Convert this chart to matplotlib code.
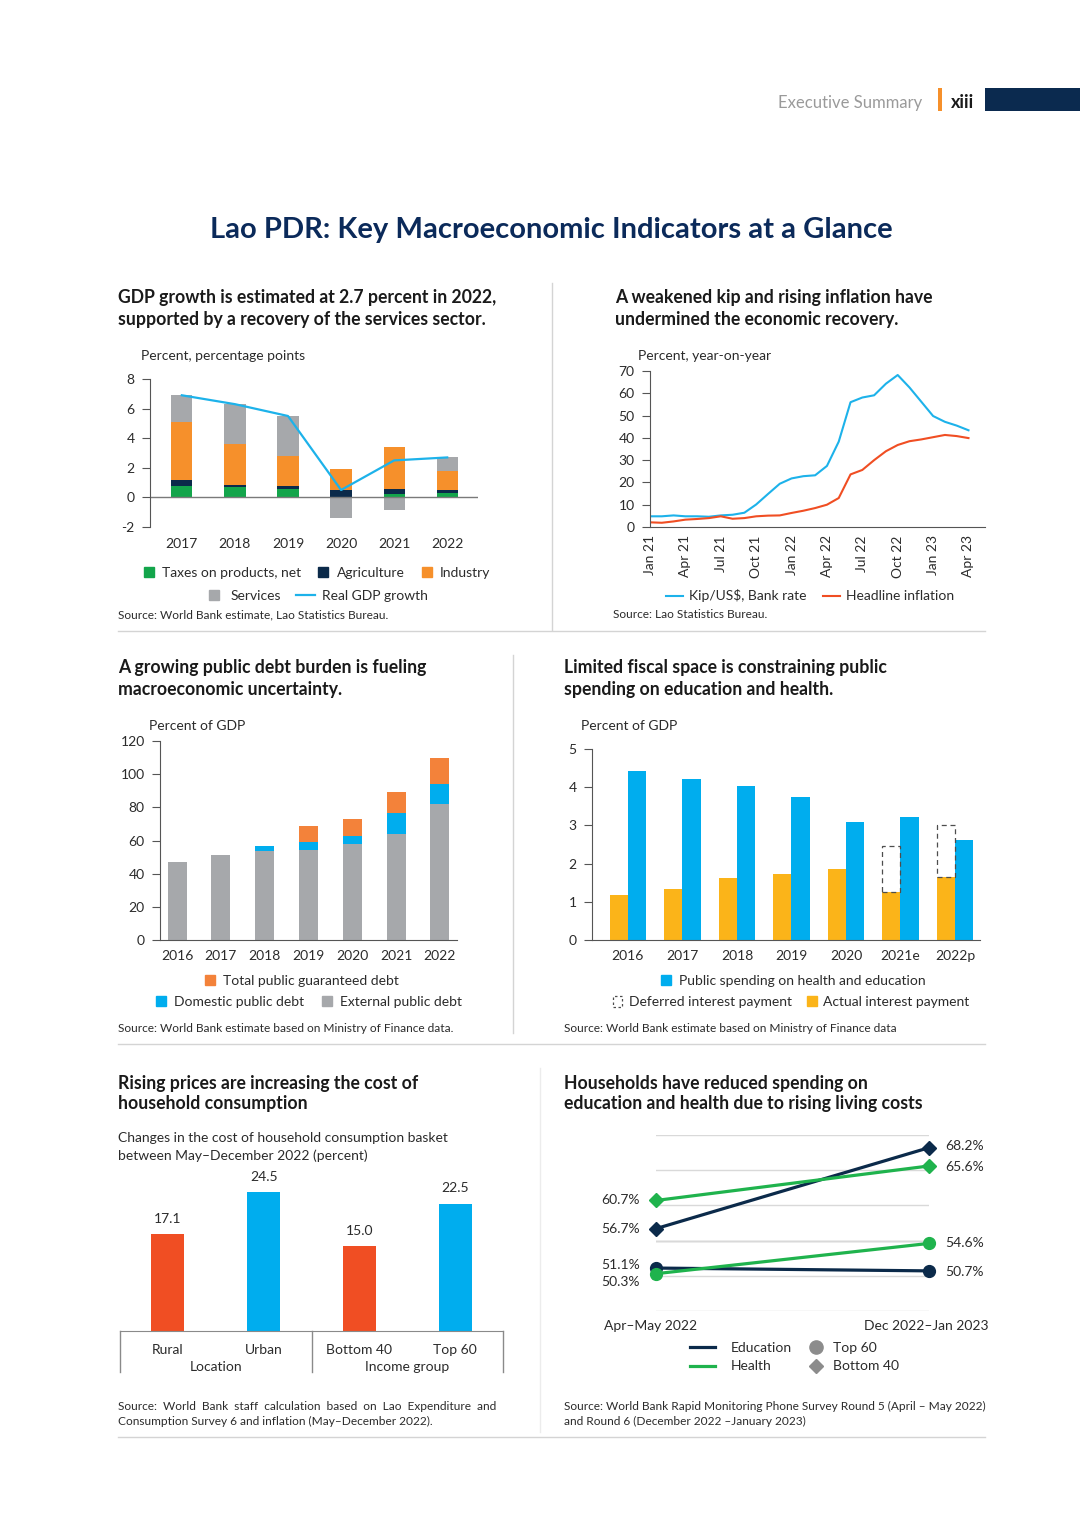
import matplotlib

matplotlib.use("Agg")

import matplotlib.pyplot as plt
import matplotlib.patches as mpatches
from matplotlib.lines import Line2D
import numpy as np

plt.rcParams["font.family"] = ["Lato", "DejaVu Sans"]
plt.rcParams["axes.unicode_minus"] = False

W, H = 1080, 1527

# ---- data -------------------------------------------------------------
gdp_years = ["2017", "2018", "2019", "2020", "2021", "2022"]
gdp_taxes = [0.75, 0.68, 0.60, 0.00, 0.25, 0.27]
gdp_agri = [0.45, 0.18, 0.14, 0.50, 0.31, 0.23]
gdp_industry = [3.90, 2.75, 2.03, 1.40, 2.84, 1.28]
gdp_services = [1.85, 2.70, 2.73, -1.40, -0.85, 0.94]
gdp_growth = [6.9, 6.3, 5.5, 0.5, 2.5, 2.7]

months = ["Jan 21", "Feb 21", "Mar 21", "Apr 21", "May 21", "Jun 21", "Jul 21",
          "Aug 21", "Sep 21", "Oct 21", "Nov 21", "Dec 21", "Jan 22", "Feb 22",
          "Mar 22", "Apr 22", "May 22", "Jun 22", "Jul 22", "Aug 22", "Sep 22",
          "Oct 22", "Nov 22", "Dec 22", "Jan 23", "Feb 23", "Mar 23", "Apr 23"]
kip_rate = [4.8, 4.8, 5.2, 4.8, 4.8, 4.6, 5.2, 5.5, 6.4, 10.1, 14.8, 19.4, 21.8, 22.8,
            23.2, 27.4, 38.3, 56.0, 58.1, 59.1, 64.3, 68.2, 62.6, 56.2, 49.8, 47.2,
            45.5, 43.4]
headline_infl = [2.1, 1.9, 2.5, 3.3, 3.6, 4.0, 4.8, 3.7, 4.0, 4.8, 5.1, 5.2, 6.3, 7.3,
                 8.5, 10.0, 13.0, 23.6, 25.6, 30.0, 34.0, 36.8, 38.5, 39.3, 40.3, 41.3,
                 40.8, 39.9]

debt_years = ["2016", "2017", "2018", "2019", "2020", "2021", "2022"]
debt_external = [47.2, 51.3, 53.5, 54.3, 57.7, 63.7, 81.8]
debt_domestic = [0.0, 0.0, 3.4, 4.8, 4.8, 12.7, 12.5]
debt_guaranteed = [0.0, 0.0, 0.0, 9.4, 10.3, 12.6, 15.6]

fis_years = ["2016", "2017", "2018", "2019", "2020", "2021e", "2022p"]
fis_health_edu = [4.43, 4.22, 4.02, 3.74, 3.10, 3.23, 2.63]
fis_actual_int = [1.17, 1.34, 1.62, 1.74, 1.86, 1.26, 1.64]
fis_deferred_int = [0.0, 0.0, 0.0, 0.0, 0.0, 1.19, 1.38]

hh_groups = ["Rural", "Urban", "Bottom 40", "Top 60"]
hh_change = [17.1, 24.5, 15.0, 22.5]

slope_periods = ["Apr\u2013May 2022", "Dec 2022\u2013Jan 2023"]
edu_bottom40 = [56.7, 68.2]
edu_top60 = [51.1, 50.7]
health_bottom40 = [60.7, 65.6]
health_top60 = [50.3, 54.6]

# ---- colours ----------------------------------------------------------
C_GREEN = "#13a54b"
C_NAVY = "#0b2a4a"
C_ORANGE = "#f6902b"
C_GRAY = "#a6a8ab"
C_CYAN = "#1db2ea"
C_BLUE = "#00adee"
C_RED = "#f04e23"
C_DORANGE = "#f3823a"
C_YELLOW = "#fbb419"
C_LGREEN = "#1fb34d"
TXT = "#2b2b2b"
AX = "#555555"
FS = 10        # body text
FS_T = 12.7    # panel titles
FS_SRC = 8.6   # source notes

fig = plt.figure(figsize=(W / 100, H / 100), dpi=100)


def rect(x0, y0, x1, y1):
    return [x0 / W, 1 - y1 / H, (x1 - x0) / W, (y1 - y0) / H]


def ftext(x, y, s, **kw):
    kw.setdefault("va", "center")
    kw.setdefault("color", TXT)
    fig.text(x / W, 1 - y / H, s, **kw)


def title(x, y, s):
    ftext(x, y, s, fontsize=FS_T, fontweight="bold", color="#1a1a1a")


def hline(x0, x1, y, color="#d4d4d4", lw=1.0):
    fig.add_artist(Line2D([x0 / W, x1 / W], [1 - y / H, 1 - y / H],
                          transform=fig.transFigure, color=color, lw=lw))


def vline(x, y0, y1, color="#d4d4d4", lw=1.0):
    fig.add_artist(Line2D([x / W, x / W], [1 - y0 / H, 1 - y1 / H],
                          transform=fig.transFigure, color=color, lw=lw))


def legend_row(handles, labels, cx, cy, **kw):
    opts = dict(loc="center", bbox_to_anchor=(cx / W, 1 - cy / H), ncol=len(handles),
                frameon=False, fontsize=FS, handlelength=1.0, handletextpad=0.45,
                columnspacing=1.1, borderaxespad=0, borderpad=0, labelcolor=TXT)
    opts.update(kw)
    fig.legend(handles, labels, **opts)


def sq(color):
    return Line2D([], [], marker="s", ls="", markersize=7.5, color=color)


def style_axis(ax):
    for s in ["top", "right"]:
        ax.spines[s].set_visible(False)
    ax.spines["left"].set_color(AX)
    ax.spines["bottom"].set_color(AX)
    ax.tick_params(axis="y", length=6, width=0.8, color=AX, labelsize=FS,
                   labelcolor=TXT, pad=5)
    ax.tick_params(axis="x", length=0, labelsize=FS, labelcolor=TXT, pad=7)


# ---- page furniture ----------------------------------------------------
ftext(922, 103, "Executive Summary", ha="right", fontsize=12, color="#9a9a9a")
fig.add_artist(mpatches.Rectangle((938 / W, 1 - 111 / H), 4 / W, 23 / H,
                                  transform=fig.transFigure, color="#f6902b", lw=0))
ftext(951, 102, "xiii", ha="left", fontsize=13, fontweight="bold", color="#1a1a1a")
fig.add_artist(mpatches.Rectangle((985 / W, 1 - 111 / H), 95 / W, 23 / H,
                                  transform=fig.transFigure, color="#0b2a4f", lw=0))
ftext(551, 230, "Lao PDR: Key Macroeconomic Indicators at a Glance", ha="center",
      fontsize=21, fontweight="bold", color="#0b2a5a")

vline(552, 283, 630)
hline(118, 985, 631)
vline(513, 655, 1033)
hline(118, 985, 1044)
vline(540, 1068, 1432, color="#ececec")
hline(118, 985, 1437)

# ---- panel 1: GDP growth ----------------------------------------------
title(118, 298, "GDP growth is estimated at 2.7 percent in 2022,")
title(118, 320, "supported by a recovery of the services sector.")
ftext(141, 356, "Percent, percentage points", fontsize=FS)

ax1 = fig.add_axes(rect(150, 379, 478, 527))
x1 = np.arange(len(gdp_years))
pos = np.zeros(len(gdp_years))
neg = np.zeros(len(gdp_years))
for vals, col in [(gdp_taxes, C_GREEN), (gdp_agri, C_NAVY),
                  (gdp_industry, C_ORANGE), (gdp_services, C_GRAY)]:
    v = np.array(vals)
    base = np.where(v >= 0, pos, neg)
    ax1.bar(x1, v, 0.4, bottom=base, color=col, lw=0)
    pos += np.where(v >= 0, v, 0)
    neg += np.where(v < 0, v, 0)
ax1.plot(x1, gdp_growth, color=C_CYAN, lw=1.6)
ax1.axhline(0, color="#7a7a7a", lw=1.0)
ax1.set_xlim(-0.6, 5.58)
ax1.set_ylim(-2, 8)
ax1.set_yticks([-2, 0, 2, 4, 6, 8])
ax1.set_xticks(x1, gdp_years)
style_axis(ax1)
ax1.spines["bottom"].set_visible(False)
ax1.tick_params(axis="x", pad=8)

legend_row([sq(C_GREEN), sq(C_NAVY), sq(C_ORANGE)],
           ["Taxes on products, net", "Agriculture", "Industry"], 316, 573)
legend_row([sq(C_GRAY), Line2D([], [], color=C_CYAN, lw=1.6)],
           ["Services", "Real GDP growth"], 316, 596, handlelength=1.4)
ftext(118, 615, "Source: World Bank estimate, Lao Statistics Bureau.", fontsize=FS_SRC)

# ---- panel 2: kip and inflation ---------------------------------------
title(615, 298, "A weakened kip and rising inflation have")
title(615, 320, "undermined the economic recovery.")
ftext(638, 356, "Percent, year-on-year", fontsize=FS)

ax2 = fig.add_axes(rect(650, 371, 985, 527))
xm = np.arange(len(months))
ax2.plot(xm, kip_rate, color=C_CYAN, lw=1.5)
ax2.plot(xm, headline_infl, color=C_RED, lw=1.5)
ax2.set_xlim(0, 28.4)
ax2.set_ylim(0, 70)
ax2.set_yticks(range(0, 71, 10))
ax2.set_xticks(xm[::3], months[::3], rotation=90)
style_axis(ax2)
ax2.tick_params(axis="x", pad=6)

legend_row([Line2D([], [], color=C_CYAN, lw=1.5), Line2D([], [], color=C_RED, lw=1.5)],
           [r"Kip/US\$, Bank rate", "Headline inflation"], 810, 596,
           handlelength=1.2, columnspacing=1.2)
ftext(613, 615, "Source: Lao Statistics Bureau.", fontsize=FS_SRC)

# ---- panel 3: public debt ----------------------------------------------
title(118, 668, "A growing public debt burden is fueling")
title(118, 690, "macroeconomic uncertainty.")
ftext(149, 726, "Percent of GDP", fontsize=FS)

ax3 = fig.add_axes(rect(160, 741, 457, 940))
x3 = np.arange(len(debt_years))
ext = np.array(debt_external)
dom = np.array(debt_domestic)
ax3.bar(x3, ext, 0.43, color=C_GRAY, lw=0)
ax3.bar(x3, dom, 0.43, bottom=ext, color=C_BLUE, lw=0)
ax3.bar(x3, debt_guaranteed, 0.43, bottom=ext + dom, color=C_DORANGE, lw=0)
ax3.set_xlim(-0.39, 6.39)
ax3.set_ylim(0, 120)
ax3.set_yticks(range(0, 121, 20))
ax3.set_xticks(x3, debt_years)
style_axis(ax3)

legend_row([sq(C_DORANGE)], ["Total public guaranteed debt"], 301, 981)
legend_row([sq(C_BLUE), sq(C_GRAY)], ["Domestic public debt", "External public debt"],
           308, 1002)
ftext(118, 1029, "Source: World Bank estimate based on Ministry of Finance data.",
      fontsize=FS_SRC)

# ---- panel 4: fiscal space ----------------------------------------------
title(564, 668, "Limited fiscal space is constraining public")
title(564, 690, "spending on education and health.")
ftext(581, 726, "Percent of GDP", fontsize=FS)

ax4 = fig.add_axes(rect(592, 749, 980, 940))
x4 = np.arange(len(fis_years))
bw = 0.337
ax4.bar(x4 - bw / 2, fis_actual_int, bw, color=C_YELLOW, lw=0)
ax4.bar(x4 + bw / 2, fis_health_edu, bw, color=C_BLUE, lw=0)
for xi, base, d in zip(x4, fis_actual_int, fis_deferred_int):
    if d > 0:
        ax4.add_patch(mpatches.Rectangle((xi - bw, base), bw, d, fill=False,
                                         edgecolor="#4d4d4d", lw=0.9, ls=(0, (4, 3))))
ax4.set_xlim(-0.66, 6.46)
ax4.set_ylim(0, 5)
ax4.set_yticks(range(0, 6))
ax4.set_xticks(x4, fis_years)
style_axis(ax4)

legend_row([sq(C_BLUE)], ["Public spending on health and education"], 792, 981)
legend_row([mpatches.Patch(facecolor="none", edgecolor="#4d4d4d", ls=(0, (2, 2)), lw=0.9),
            sq(C_YELLOW)],
           ["Deferred interest payment", "Actual interest payment"], 791, 1002,
           handlelength=0.7, handleheight=0.9)
ftext(564, 1029, "Source: World Bank estimate based on Ministry of Finance data",
      fontsize=FS_SRC)

# ---- panel 5: household cost ------------------------------------------
title(118, 1083, "Rising prices are increasing the cost of")
title(118, 1104, "household consumption")
ftext(118, 1138, "Changes in the cost of household consumption basket", fontsize=FS)
ftext(118, 1156, "between May\u2013December 2022 (percent)", fontsize=FS)

ax5 = fig.add_axes(rect(120, 1160, 503, 1331))
x5 = np.arange(len(hh_groups))
ax5.bar(x5, hh_change, 0.345, color=[C_RED, C_BLUE, C_RED, C_BLUE], lw=0)
for xi, v in zip(x5, hh_change):
    ax5.annotate(f"{v:.1f}", (xi, v), xytext=(0, 11), textcoords="offset points",
                 ha="center", va="center", fontsize=FS, color=TXT)
ax5.set_xlim(-0.5, 3.5)
ax5.set_ylim(0, 30.2)
for s in ["top", "right", "left"]:
    ax5.spines[s].set_visible(False)
ax5.spines["bottom"].set_color("#8a8a8a")
ax5.set_yticks([])
ax5.set_xticks(x5, hh_groups)
ax5.tick_params(axis="x", length=0, labelsize=FS, labelcolor=TXT, pad=9)
for xs in [-0.5, 1.5, 3.5]:
    ax5.plot([xs, xs], [0, -7.3], color="#8a8a8a", lw=1.0, clip_on=False)
ax5.text(0.5, -6.4, "Location", ha="center", va="center", fontsize=FS, color=TXT)
ax5.text(2.5, -6.4, "Income group", ha="center", va="center", fontsize=FS, color=TXT)

ftext(118, 1406, "Source:  World  Bank  staff  calculation  based  on  Lao  Expenditure  and",
      fontsize=FS_SRC)
ftext(118, 1421, "Consumption Survey 6 and inflation (May\u2013December 2022).", fontsize=FS_SRC)

# ---- panel 6: household spending slope chart --------------------------
title(564, 1083, "Households have reduced spending on")
title(564, 1104, "education and health due to rising living costs")

ax6 = fig.add_axes(rect(656, 1135, 929, 1311))
xs6 = [0, 1]
ax6.plot(xs6, edu_bottom40, color=C_NAVY, lw=2.3, marker="D", markersize=7, clip_on=False,
         zorder=3)
ax6.plot(xs6, edu_top60, color=C_NAVY, lw=2.3, marker="o", markersize=8.5, clip_on=False,
         zorder=3)
ax6.plot(xs6, health_bottom40, color=C_LGREEN, lw=2.3, marker="D", markersize=7,
         clip_on=False, zorder=4)
ax6.plot(xs6, health_top60, color=C_LGREEN, lw=2.3, marker="o", markersize=8.5,
         clip_on=False, zorder=4)
ax6.set_xlim(0, 1)
ax6.set_ylim(45, 70)
ax6.set_yticks(range(45, 71, 5))
ax6.set_xticks([])
ax6.tick_params(axis="y", length=0, labelleft=False)
ax6.grid(axis="y", color="#d9d9d9", lw=1.0)
ax6.axhline(55, color="#b5b5b5", lw=1.0, zorder=1)
for s in ax6.spines.values():
    s.set_visible(False)

left_vals = [(health_bottom40[0], 0), (edu_bottom40[0], 0), (edu_top60[0], 2),
             (health_top60[0], -6)]
for v, dy in left_vals:
    ax6.annotate(f"{v:.1f}%", (0, v), xytext=(-11.5, dy), textcoords="offset points",
                 ha="right", va="center", fontsize=FS, color=TXT)
ax6.annotate("", (0, health_top60[0]), xytext=(-3, -6), textcoords="offset points",
             arrowprops=dict(arrowstyle="-", color="#555555", lw=0.8))
right_vals = [(edu_bottom40[1], 1), (health_bottom40[1], -1), (health_top60[1], 0),
              (edu_top60[1], -1)]
for v, dy in right_vals:
    ax6.annotate(f"{v:.1f}%", (1, v), xytext=(11.5, dy), textcoords="offset points",
                 ha="left", va="center", fontsize=FS, color=TXT)
ax6.text(-0.02, 42.9, slope_periods[0], ha="center", va="center", fontsize=FS, color=TXT)
ax6.text(0.99, 42.9, slope_periods[1], ha="center", va="center", fontsize=FS, color=TXT)

leg_kw = dict(loc="center left", frameon=False, fontsize=FS, borderaxespad=0,
              borderpad=0, labelcolor=TXT, labelspacing=0.5)
fig.legend([Line2D([], [], color=C_NAVY, lw=2.3), Line2D([], [], color=C_LGREEN, lw=2.3)],
           ["Education", "Health"], bbox_to_anchor=(690 / W, 1 - 1357 / H),
           handlelength=1.8, handletextpad=1.1, **leg_kw)
fig.legend([Line2D([], [], marker="o", ls="", markersize=9.5, color="#8c8c8c"),
            Line2D([], [], marker="D", ls="", markersize=7.5, color="#8c8c8c")],
           ["Top 60", "Bottom 40"], bbox_to_anchor=(809 / W, 1 - 1357 / H),
           handlelength=1.0, handletextpad=0.7, **leg_kw)

ftext(564, 1406, "Source: World Bank Rapid Monitoring Phone Survey Round 5 (April \u2013 May 2022)",
      fontsize=FS_SRC)
ftext(564, 1421, "and Round 6 (December 2022 \u2013January 2023)", fontsize=FS_SRC)

fig.savefig("out.png", dpi=100)
plt.close(fig)
